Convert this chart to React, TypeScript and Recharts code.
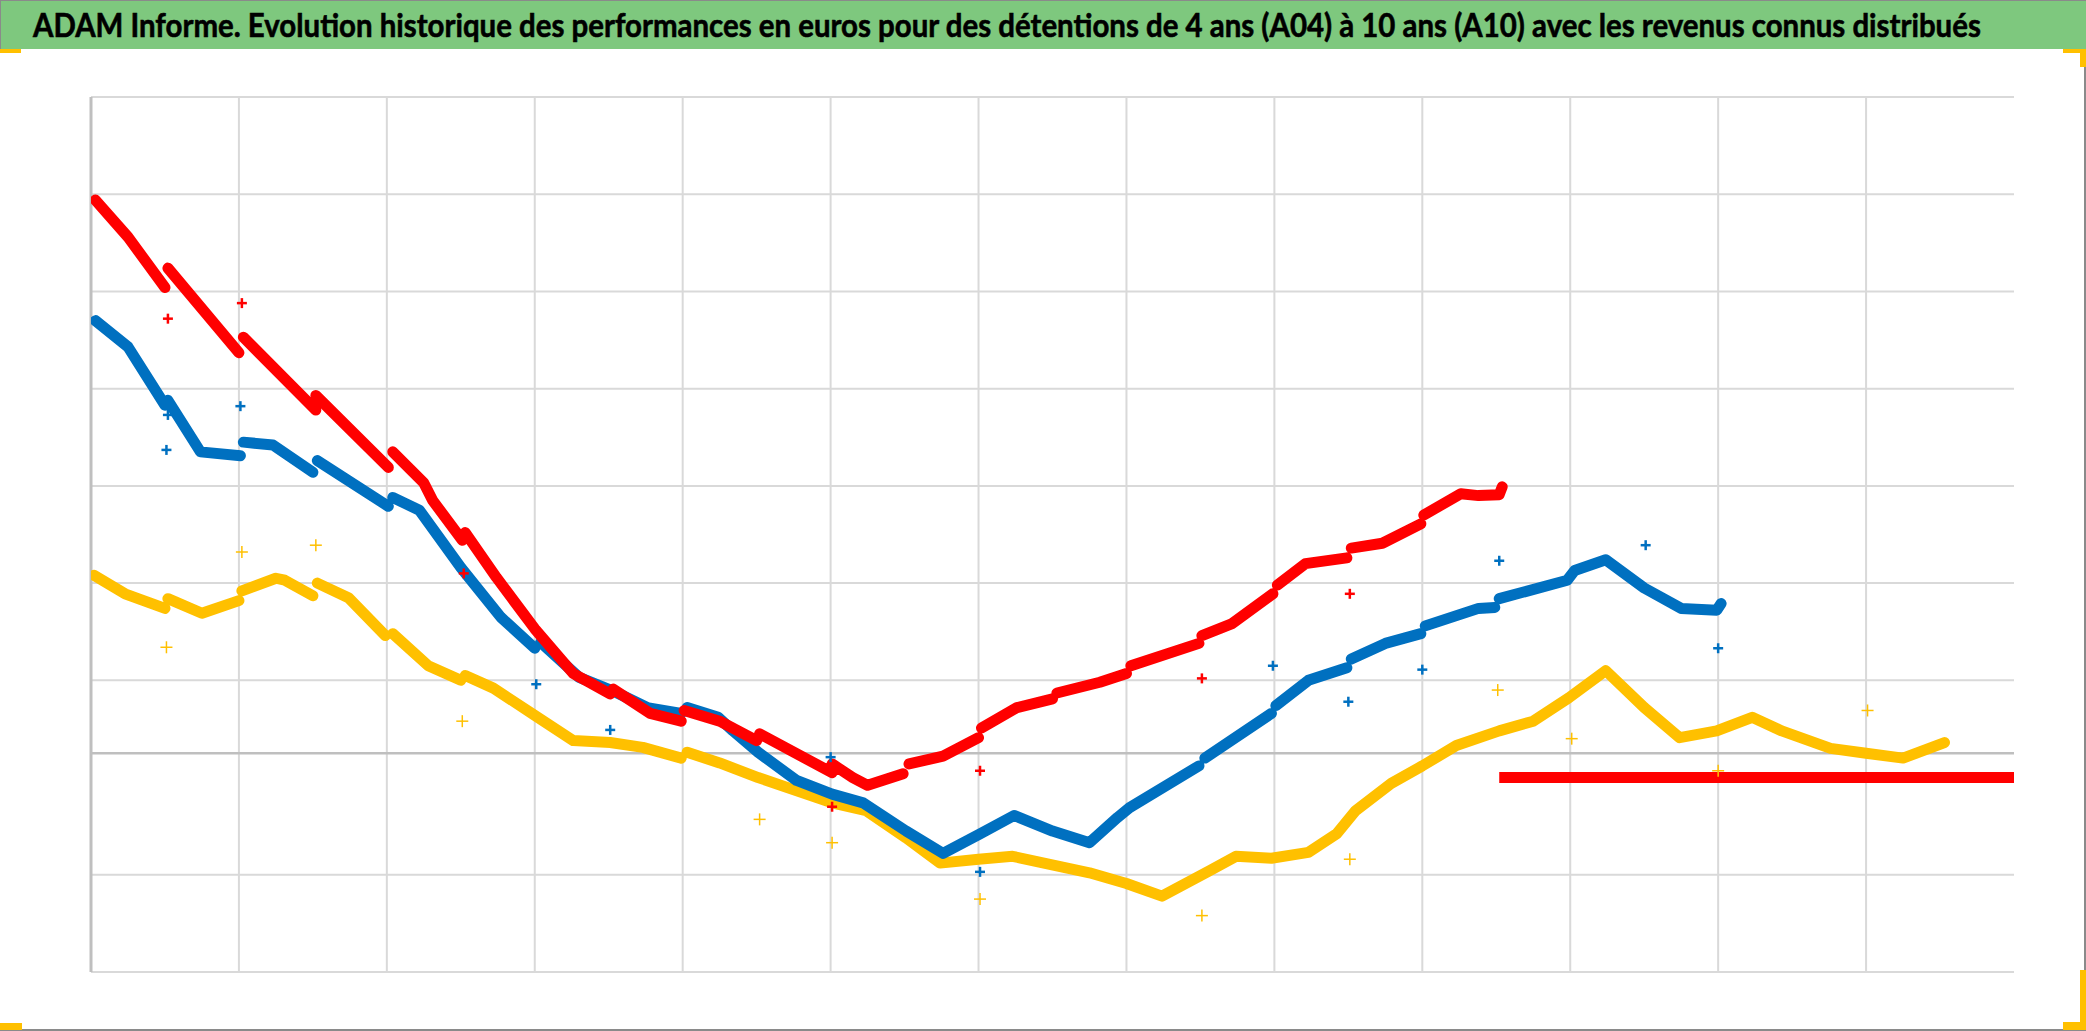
import React, { useLayoutEffect, useRef, useState } from "react";
import {
  ComposedChart,
  Line,
  Scatter,
  XAxis,
  YAxis,
  ReferenceLine,
} from "recharts";

type Pt = [number, number];

const TITLE =
  "ADAM Informe. Evolution historique des performances en euros pour des détentions de 4 ans (A04) à 10 ans (A10) avec les revenus connus distribués";

// x: one unit per vertical grid column, y: one unit per horizontal grid row
const X_TICKS = [1, 2, 3, 4, 5, 6, 7, 8, 9, 10, 11, 12];
const Y_TICKS = [0, 1, 3, 4, 5, 6, 7, 8, 9];
const AXIS_Y = 2.25;

const redSegments: Pt[][] = [
  [[0.03, 7.94], [0.25, 7.56], [0.5, 7.04]],
  [[0.52, 7.24], [1.0, 6.37]],
  [[1.03, 6.53], [1.52, 5.78]],
  [[1.52, 5.93], [2.01, 5.19]],
  [[2.04, 5.35], [2.25, 5.03], [2.31, 4.85], [2.51, 4.44]],
  [[2.53, 4.52], [2.74, 4.06], [3.0, 3.53], [3.26, 3.07], [3.51, 2.86]],
  [[3.53, 2.91], [3.78, 2.66], [3.99, 2.58]],
  [[4.01, 2.69], [4.25, 2.58], [4.5, 2.38]],
  [[4.52, 2.45], [5.01, 2.05]],
  [[5.01, 2.14], [5.15, 2.0], [5.25, 1.92], [5.49, 2.04]],
  [[5.53, 2.14], [5.76, 2.22], [6.0, 2.41]],
  [[6.02, 2.51], [6.26, 2.72], [6.5, 2.81]],
  [[6.53, 2.87], [6.82, 2.98], [7.0, 3.07]],
  [[7.03, 3.15], [7.49, 3.38]],
  [[7.51, 3.46], [7.71, 3.58], [7.99, 3.89]],
  [[8.02, 3.98], [8.21, 4.2], [8.49, 4.26]],
  [[8.52, 4.36], [8.73, 4.41], [8.99, 4.61]],
  [[9.01, 4.7], [9.26, 4.92], [9.38, 4.9], [9.52, 4.91], [9.54, 4.99]],
];
const redFlat: Pt[] = [[9.52, 2.0], [13.0, 2.0]];

const blueSegments: Pt[][] = [
  [[0.03, 6.7], [0.25, 6.43], [0.5, 5.83]],
  [[0.52, 5.88], [0.74, 5.35], [1.01, 5.31]],
  [[1.03, 5.45], [1.23, 5.42], [1.5, 5.14]],
  [[1.53, 5.26], [2.01, 4.79]],
  [[2.04, 4.88], [2.22, 4.75], [2.5, 4.16], [2.77, 3.65], [3.0, 3.33]],
  [[3.04, 3.39], [3.3, 3.03], [3.53, 2.89], [3.76, 2.72], [3.99, 2.66]],
  [
    [4.03, 2.72], [4.24, 2.62], [4.34, 2.48], [4.51, 2.26], [4.77, 1.97], [5.01, 1.83],
    [5.22, 1.74], [5.51, 1.45], [5.76, 1.22], [6.01, 1.42], [6.24, 1.61], [6.5, 1.45],
    [6.75, 1.33], [6.94, 1.59], [7.02, 1.69], [7.49, 2.12],
  ],
  [[7.53, 2.2], [7.98, 2.66]],
  [[8.01, 2.74], [8.23, 3.0], [8.49, 3.13]],
  [[8.52, 3.22], [8.75, 3.38], [8.99, 3.48]],
  [[9.02, 3.56], [9.38, 3.74], [9.49, 3.75]],
  [
    [9.52, 3.84], [9.98, 4.03], [10.03, 4.13], [10.24, 4.24], [10.5, 3.95], [10.75, 3.74],
    [10.99, 3.72], [11.02, 3.79],
  ],
];

const yellowSegments: Pt[][] = [
  [[0.02, 4.08], [0.23, 3.89], [0.5, 3.74]],
  [[0.52, 3.84], [0.75, 3.69], [1.0, 3.82]],
  [[1.02, 3.92], [1.25, 4.05], [1.31, 4.03], [1.5, 3.87]],
  [[1.53, 4.0], [1.74, 3.85], [1.99, 3.46]],
  [[2.04, 3.48], [2.28, 3.15], [2.5, 3.0]],
  [[2.53, 3.05], [2.72, 2.92], [3.0, 2.64], [3.26, 2.38], [3.51, 2.36], [3.73, 2.31], [3.99, 2.2]],
  [
    [4.03, 2.26], [4.25, 2.15], [4.51, 2.0], [5.01, 1.74], [5.24, 1.66], [5.51, 1.38],
    [5.74, 1.12], [6.0, 1.16], [6.23, 1.19], [6.75, 1.02], [7.0, 0.91], [7.24, 0.78],
    [7.56, 1.04], [7.74, 1.19], [7.98, 1.17], [8.23, 1.23], [8.42, 1.42], [8.55, 1.66],
    [8.79, 1.94], [9.0, 2.12], [9.23, 2.33], [9.52, 2.48], [9.75, 2.58], [9.99, 2.82],
    [10.24, 3.1], [10.5, 2.72], [10.74, 2.41], [10.99, 2.48], [11.23, 2.62], [11.43, 2.48],
    [11.76, 2.3], [12.0, 2.25], [12.25, 2.2], [12.53, 2.36],
  ],
];

const redOutliers: Pt[] = [
  [0.52, 6.72], [1.02, 6.88], [2.52, 4.1], [5.01, 1.7], [6.01, 2.07], [7.51, 3.02], [8.51, 3.89],
];
const blueOutliers: Pt[] = [
  [0.51, 5.37], [0.52, 5.73], [1.01, 5.82], [3.01, 2.96], [3.51, 2.49], [5.0, 2.21], [6.01, 1.03],
  [7.99, 3.15], [8.5, 2.78], [9.0, 3.11], [9.52, 4.23], [10.51, 4.39], [11.0, 3.33],
];
const yellowOutliers: Pt[] = [
  [0.51, 3.34], [1.02, 4.32], [1.52, 4.39], [2.51, 2.58], [4.52, 1.57], [5.01, 1.33], [6.01, 0.75],
  [7.51, 0.58], [8.51, 1.16], [9.51, 2.9], [10.01, 2.4], [11.0, 2.07], [12.01, 2.69],
];

const RED = "#ff0000";
const BLUE = "#0070c0";
const YELLOW = "#ffc000";
const GRID = "#d9d9d9";

// segments joined with a null point so the line breaks between them
const toLine = (segs: Pt[][]) =>
  segs.flatMap((seg) => [
    ...seg.map(([x, y]) => ({ x, y })),
    { x: seg[seg.length - 1][0], y: null },
  ]);
const toPoints = (pts: Pt[]) => pts.map(([x, y]) => ({ x, y }));

const plus = (color: string, half: number, w: number) => (props: any) => {
  const { cx, cy } = props;
  return (
    <g>
      <line x1={cx - half} x2={cx + half} y1={cy} y2={cy} stroke={color} strokeWidth={w} />
      <line x1={cx} x2={cx} y1={cy - half} y2={cy + half} stroke={color} strokeWidth={w} />
    </g>
  );
};

const lineProps = {
  dataKey: "y",
  type: "linear" as const,
  dot: false,
  activeDot: false,
  strokeWidth: 11,
  strokeLinejoin: "round" as const,
  strokeLinecap: "round" as const,
  isAnimationActive: false,
  connectNulls: false,
};

function Title() {
  const ref = useRef<HTMLSpanElement>(null);
  const [scale, setScale] = useState(1);
  useLayoutEffect(() => {
    if (ref.current) setScale(1948 / ref.current.offsetWidth);
  }, []);
  return (
    <span
      ref={ref}
      style={{
        position: "absolute",
        left: 33,
        top: 2,
        whiteSpace: "nowrap",
        fontFamily: "Lato, 'Open Sans', sans-serif",
        fontWeight: 700,
        fontSize: 33,
        lineHeight: "44px",
        color: "#000",
        WebkitTextStroke: "0.6px #000",
        transform: `scaleX(${scale})`,
        transformOrigin: "0 0",
      }}
    >
      {TITLE}
    </span>
  );
}

export default function App() {
  return (
    <div
      style={{
        position: "absolute",
        left: 0,
        top: 0,
        width: 2086,
        height: 1031,
        background: "#fff",
        overflow: "hidden",
      }}
    >
      <div
        style={{
          position: "absolute",
          left: 0,
          top: 0,
          width: 2086,
          height: 49,
          background: "#7ec87e",
          borderTop: "1px solid #8a8a8a",
          borderLeft: "1px solid #8a8a8a",
          boxSizing: "border-box",
        }}
      />
      <Title />

      <div style={{ position: "absolute", left: 0, top: 0 }}>
        <ComposedChart width={2086} height={1031} margin={{ top: 97, right: 72, bottom: 59, left: 91 }}>
          <XAxis
            type="number"
            dataKey="x"
            domain={[0, 13]}
            height={0}
            tick={false}
            axisLine={false}
            tickLine={false}
            allowDataOverflow
          />
          <YAxis
            type="number"
            domain={[0, 9]}
            width={0}
            tick={false}
            axisLine={false}
            tickLine={false}
            allowDataOverflow
          />
          {X_TICKS.map((t) => (
            <ReferenceLine key={`x${t}`} x={t} stroke={GRID} strokeWidth={2} />
          ))}
          {Y_TICKS.map((t) => (
            <ReferenceLine key={`y${t}`} y={t} stroke={GRID} strokeWidth={2} />
          ))}
          <ReferenceLine y={AXIS_Y} stroke="#bfbfbf" strokeWidth={2.5} />
          <ReferenceLine x={0} stroke="#bfbfbf" strokeWidth={3} />

          <Line {...lineProps} data={toLine(yellowSegments)} stroke={YELLOW} />
          <Line {...lineProps} data={toLine(blueSegments)} stroke={BLUE} />
          <Line {...lineProps} data={toLine(redSegments)} stroke={RED} />
          <Line {...lineProps} data={toPoints(redFlat)} stroke={RED} strokeWidth={11} strokeLinecap="butt" />

          <Scatter data={toPoints(yellowOutliers)} dataKey="y" shape={plus(YELLOW, 6, 1.5)} isAnimationActive={false} />
          <Scatter data={toPoints(blueOutliers)} dataKey="y" shape={plus(BLUE, 5, 2.5)} isAnimationActive={false} />
          <Scatter data={toPoints(redOutliers)} dataKey="y" shape={plus(RED, 5, 2.5)} isAnimationActive={false} />
        </ComposedChart>
      </div>

      {/* frame and selection handles */}
      <div style={{ position: "absolute", left: 2084, top: 50, width: 2, height: 981, background: "#8a8a8a" }} />
      <div style={{ position: "absolute", left: 0, top: 1029, width: 2086, height: 2, background: "#8a8a8a" }} />
      <div style={{ position: "absolute", left: 0, top: 49, width: 21, height: 4, background: YELLOW }} />
      <div style={{ position: "absolute", left: 2063, top: 49, width: 23, height: 4, background: YELLOW }} />
      <div style={{ position: "absolute", left: 2080, top: 49, width: 6, height: 18, background: YELLOW }} />
      <div style={{ position: "absolute", left: 0, top: 1023, width: 22, height: 7, background: YELLOW }} />
      <div style={{ position: "absolute", left: 2080, top: 970, width: 6, height: 60, background: YELLOW }} />
      <div style={{ position: "absolute", left: 2063, top: 1022, width: 23, height: 8, background: YELLOW }} />
    </div>
  );
}
